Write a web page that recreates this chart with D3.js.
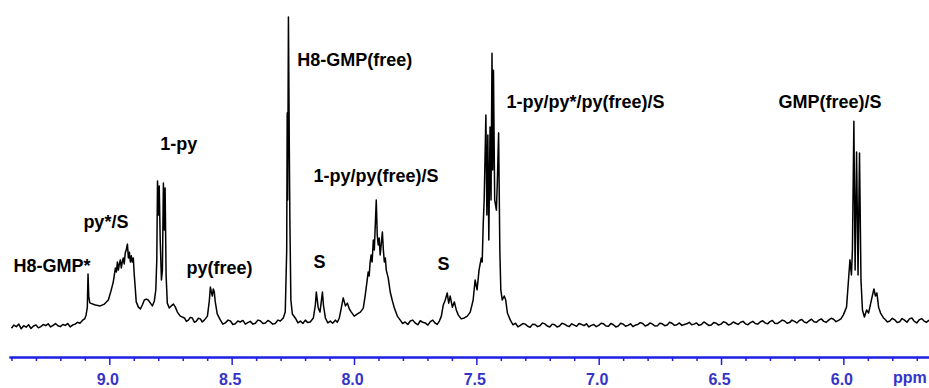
<!DOCTYPE html>
<html>
<head>
<meta charset="utf-8">
<script src="https://cdn.jsdelivr.net/npm/d3@7"></script>
<style>
  body { margin: 0; background: #fff; }
  text { font-family: "Liberation Sans", Arial, sans-serif; }
</style>
</head>
<body>
<div id="chart-area"></div>
<script>
// spectrum: [ppm, intensity]
let baseLeft = [[9.40,-0.7],[9.39,0.3],[9.38,-0.2],[9.37,0.6],[9.36,-0.9],[9.35,0.1],[9.34,-0.4],[9.33,0.4],
    [9.32,-0.8],[9.31,0.0],[9.30,0.3],[9.29,-0.6],[9.28,-0.2],[9.27,0.5],[9.26,0.1],[9.25,0.7],[9.24,-0.3],
    [9.23,0.2],[9.22,0.8],[9.21,0.1],[9.20,-0.2],[9.19,0.5],[9.18,0.2],[9.17,0.8],[9.16,-0.3],[9.15,0.3],
    [9.14,0.6],[9.13,1.2],[9.12,0.9]];
let h8GmpStar = [[9.11,1.8],[9.10,2.4],[9.095,3.5],[9.090,6.0],[9.087,16.8],[9.084,9.5],[9.080,7.6]];
let pyStar = [[9.078,7.4],[9.057,6.8],[9.037,6.5],[9.020,7.1],[9.004,8.4],[8.992,11.7],[8.984,14.2],
    [8.975,18.8],[8.971,17.5],[8.967,20.7],[8.963,18.1],[8.959,20.1],[8.955,21.4],[8.951,18.8],[8.947,20.7],
    [8.943,22.0],[8.939,20.1],[8.935,23.6],[8.931,24.6],[8.926,26.5],[8.922,22.0],[8.918,23.9],[8.914,20.7],
    [8.910,22.7],[8.906,20.7],[8.902,22.0],[8.898,16.5],[8.894,12.3],[8.890,7.8],[8.881,6.1],[8.873,5.5],
    [8.865,6.8],[8.857,8.4],[8.849,8.7],[8.841,8.4],[8.832,7.4],[8.824,6.5],[8.816,8.1],[8.810,11.7]];
let onePy = [[8.806,21.4],[8.803,46.9],[8.799,35.9],[8.796,45.3],[8.792,27.8],[8.787,14.9],[8.783,18.1],
    [8.779,46.3],[8.775,31.1],[8.772,44.7],[8.768,16.5],[8.763,7.4],[8.755,5.8],[8.747,6.5],[8.738,7.1],
    [8.730,6.1],[8.722,4.5],[8.710,3.2]];
let pyFree = [[8.693,2.6],[8.685,1.5],[8.677,1.9],[8.669,2.8],[8.661,2.6],[8.652,1.2],[8.644,1.6],[8.636,2.5],
    [8.628,2.3],[8.620,1.3],[8.612,1.9],[8.599,3.2],[8.591,8.4],
    [8.587,12.6],[8.583,11.0],[8.579,9.7],[8.575,12.0],[8.571,11.0],[8.567,7.8],[8.559,3.9],[8.546,1.9]];
let baseA = [[8.536,0.6],[8.526,1.0],[8.515,1.9],[8.505,1.6],[8.495,0.5],[8.485,0.7],[8.475,1.6],[8.465,1.3],
    [8.454,1.8],[8.444,0.6],[8.434,1.1],[8.424,1.5],[8.413,0.6],[8.403,0.9],[8.393,1.9],[8.383,1.7],
    [8.372,0.8],[8.362,1.0],[8.352,1.8],[8.342,1.3],[8.332,0.6],[8.322,0.8],[8.311,1.9],[8.301,1.6],[8.289,2.6]];
let h8GmpFree = [[8.281,4.5],[8.275,24.6],[8.273,68.9],[8.271,40.8],[8.268,100],[8.264,53.7],[8.262,34.0],
    [8.258,8.4],[8.252,3.9],[8.240,2.6]];
let sBand = [[8.229,1.0],[8.219,1.6],[8.209,0.8],[8.199,1.9],[8.189,1.1],[8.179,1.3],[8.166,2.6],[8.158,6.8],
    [8.154,11.0],[8.150,8.4],[8.146,5.8],
    [8.139,4.5],[8.133,8.4],[8.129,11.0],[8.125,6.8],[8.117,2.6],[8.107,1.0],[8.097,1.6],[8.087,0.9],
    [8.076,1.9],[8.068,1.2],[8.060,2.6],
    [8.052,5.8],[8.044,9.1],[8.035,6.5],[8.027,7.4],[8.019,5.5],[8.011,4.5],[7.999,3.2]];
let cluster79 = [[7.986,3.9],[7.974,4.5],[7.962,5.8],[7.954,10.0],[7.946,14.9],[7.942,17.5],[7.938,16.2],
    [7.934,20.7],[7.930,23.0],[7.926,20.7],[7.921,27.8],[7.917,24.6],[7.913,32.7],[7.909,40.8],[7.905,29.4],
    [7.901,26.2],[7.897,28.5],[7.893,23.0],[7.889,26.2],[7.884,30.4],[7.880,24.6],[7.876,20.7],[7.872,22.0],
    [7.868,18.1],[7.860,15.5],[7.852,11.0],[7.844,8.4],[7.835,5.8],[7.823,3.2],[7.811,1.9]];
let baseB = [[7.801,0.8],[7.791,1.3],[7.780,0.5],[7.770,1.6],[7.760,1.9],[7.749,0.9],[7.739,0.4],[7.729,1.7],
    [7.719,1.2],[7.709,1.0],[7.698,0.3],[7.688,1.4],[7.678,1.9],[7.668,0.9],[7.660,0.5],[7.651,1.6]];
let cluster74 = [[7.643,3.2],[7.635,6.8],[7.627,8.4],[7.619,10.7],[7.613,7.4],[7.607,9.7],[7.598,6.1],
    [7.590,7.8],[7.582,5.2],[7.574,3.6],[7.562,2.3],[7.549,2.6],[7.537,3.2],[7.525,4.5],[7.513,8.4],
    [7.505,14.9],[7.497,11.7],[7.489,18.1],[7.480,22.0],[7.476,20.7],[7.472,32.7],[7.468,40.8],[7.461,68.3],
    [7.457,35.9],[7.453,61.8],[7.449,27.8],[7.444,64.4],[7.440,40.8],[7.436,88.3],[7.433,50.5],[7.430,82.8],
    [7.425,40.8],[7.418,37.5],[7.414,47.2],[7.409,62.5],[7.404,24.6],[7.400,11.7],[7.394,8.4],[7.386,9.7],
    [7.380,8.4],[7.373,4.2],[7.361,1.9]];
let baseMid = [[7.35,0.4],[7.34,0.9],[7.33,-0.3],[7.32,0.2],[7.31,0.8],[7.30,0.6],[7.29,-0.1],[7.28,-0.4],
    [7.27,0.6],[7.26,0.5],[7.25,-0.2],[7.24,0.1],[7.23,1.0],[7.22,0.7],[7.21,0.0],[7.20,-0.3],[7.19,0.6],
    [7.18,0.4],[7.17,-0.3],[7.16,0.0],[7.15,0.9],[7.14,0.6],[7.13,0.1],[7.12,-0.2],[7.11,0.7],[7.10,0.3],
    [7.09,-0.1],[7.08,0.8],[7.07,0.5],[7.06,0.1],[7.05,0.7],[7.04,-0.3],[7.03,0.2],[7.02,0.5],[7.01,-0.2],
    [7.00,0.2],[6.99,0.9],[6.98,0.7],[6.97,0.0],[6.96,-0.1],[6.95,0.8],[6.94,0.4],[6.93,-0.3],[6.92,0.0],
    [6.91,0.9],[6.90,0.6],[6.89,-0.1],[6.88,0.2],[6.87,0.7],[6.86,-0.2],[6.85,0.3],[6.84,0.5],[6.83,1.1],
    [6.82,0.8],[6.81,0.0],[6.80,0.3],[6.79,1.0],[6.78,0.6],[6.77,0.0],[6.76,0.1],[6.75,0.9],[6.74,0.7],
    [6.73,0.1],[6.72,0.3],[6.71,1.2],[6.70,0.9],[6.69,0.2],[6.68,0.4],[6.67,1.0],[6.66,0.2],[6.65,0.5],
    [6.64,0.7],[6.63,1.2],[6.62,0.4],[6.61,0.6],[6.60,1.0],[6.59,0.2],[6.58,0.5],[6.57,1.3],[6.56,0.8],
    [6.55,0.2],[6.54,0.3],[6.53,1.1],[6.52,0.9],[6.51,0.3],[6.50,0.6],[6.49,1.4],[6.48,1.1],[6.47,0.3],
    [6.46,0.6],[6.45,1.3],[6.44,0.9],[6.43,0.5],[6.42,1.2],[6.41,1.5],[6.40,0.7],[6.39,0.4],[6.38,1.1],
    [6.37,1.5],[6.36,0.8],[6.35,0.6],[6.34,1.3],[6.33,1.7],[6.32,1.0],[6.31,0.7],[6.30,1.4],[6.29,1.8],
    [6.28,0.9],[6.27,0.8],[6.26,1.3],[6.25,1.9],[6.24,1.6],[6.23,0.9],[6.22,1.1],[6.21,1.9],[6.20,1.5],
    [6.19,1.0],[6.18,1.8],[6.17,2.1],[6.16,1.3],[6.15,1.0],[6.14,1.7],[6.13,2.2],[6.12,1.4],[6.11,1.2],
    [6.10,1.9],[6.09,2.3],[6.08,1.5],[6.07,1.2],[6.06,1.9],[6.05,2.5],[6.04,2.2],[6.03,1.4],[6.02,1.8],
    [6.01,2.3]];
let gmpFree = [[6.000,3.6],[5.987,6.1],[5.979,14.9],[5.973,21.4],[5.967,16.5],[5.963,24.6],[5.957,66.3],
    [5.952,18.1],[5.946,56.3],[5.940,16.5],[5.934,56.0],[5.928,14.9],[5.922,5.2],[5.914,2.9],[5.905,5.2],
    [5.897,4.2],[5.889,7.1],[5.881,10.0],[5.875,12.0],[5.869,9.7],[5.863,10.7],[5.856,6.1],[5.848,4.2],
    [5.836,2.6]];
let baseRight = [[5.83,2.2],[5.82,1.3],[5.81,1.6],[5.80,2.5],[5.79,2.0],[5.78,1.1],[5.77,1.4],[5.76,2.4],
    [5.75,1.9],[5.74,1.2],[5.73,2.3],[5.72,2.6],[5.71,1.5],[5.70,1.0],[5.69,2.0],[5.68,2.4],[5.67,1.6],
    [5.66,1.2],[5.65,1.9]];

let majorTicks = [9.0, 8.5, 8.0, 7.5, 7.0, 6.5, 6.0];

// peak assignments: [text, ppm, intensity] at the label's left baseline
let labels = [
    ["H8-GMP*", 9.392, 17.5],
    ["py*/S", 9.106, 31.7],
    ["1-py", 8.792, 57.0],
    ["py(free)", 8.685, 16.8],
    ["H8-GMP(free)", 8.232, 84.1],
    ["S", 8.166, 18.8],
    ["1-py/py(free)/S", 8.166, 46.6],
    ["S", 7.659, 18.1],
    ["1-py/py*/py(free)/S", 7.377, 70.6],
    ["GMP(free)/S", 6.265, 70.6]
];

let w = 929;
let h = 388;
let axisY = 357;
let axisColor = "#1f1fe6";

let spectrum = [].concat(baseLeft, h8GmpStar, pyStar, onePy, pyFree, baseA, h8GmpFree,
    sBand, cluster79, baseB, cluster74, baseMid, gmpFree, baseRight);

let svg = d3.select("#chart-area")
    .append("svg")
    .attr("width", w)
    .attr("height", h);

svg.append("rect").attr("width", w).attr("height", h).attr("fill", "#fff");

let xScale = d3.scaleLinear()
    .domain([9.41, 5.65])
    .range([9, w]);

let yScale = d3.scaleLinear()
    .domain([0, 100])
    .range([326, 17]);

// minor ticks every 0.1 ppm
let minorTicks = d3.range(94, 56, -1).map(d => d / 10)
    .filter(d => majorTicks.indexOf(d) < 0);

let minorAxis = d3.axisBottom(xScale)
    .tickValues(minorTicks)
    .tickSize(4)
    .tickSizeOuter(0)
    .tickFormat("");

let majorAxis = d3.axisBottom(xScale)
    .tickValues(majorTicks)
    .tickSize(8)
    .tickSizeOuter(0)
    .tickPadding(9)
    .tickFormat(d3.format(".1f"));

let gMinor = svg.append("g")
    .attr("transform", "translate(0," + axisY + ")")
    .call(minorAxis);

let gMajor = svg.append("g")
    .attr("transform", "translate(0," + axisY + ")")
    .call(majorAxis);

[gMinor, gMajor].forEach(g => {
    g.select(".domain").attr("stroke", axisColor).attr("stroke-width", 2);
    g.selectAll(".tick line").attr("stroke", axisColor).attr("stroke-width", 1.5);
});

gMajor.selectAll(".tick text")
    .attr("fill", "#3434c8")
    .attr("dx", "-2")
    .style("font-size", "16px")
    .style("font-weight", "bold")
    .style("font-family", "'Liberation Sans', Arial, sans-serif");

svg.append("text")
    .attr("x", 893)
    .attr("y", 383)
    .attr("fill", "#3434c8")
    .style("font-size", "16px")
    .style("font-weight", "bold")
    .text("ppm");

let line = d3.line()
    .x(d => xScale(d[0]))
    .y(d => yScale(d[1]));

svg.append("path")
    .datum(spectrum)
    .attr("d", line)
    .attr("fill", "none")
    .attr("stroke", "#000")
    .attr("stroke-width", 1.5)
    .attr("stroke-linejoin", "round");

svg.selectAll(".peak-label")
    .data(labels)
    .enter()
    .append("text")
    .attr("class", "peak-label")
    .attr("x", d => xScale(d[1]))
    .attr("y", d => yScale(d[2]))
    .attr("fill", "#000")
    .style("font-size", "18px")
    .style("font-weight", "bold")
    .text(d => d[0]);
</script>
</body>
</html>
